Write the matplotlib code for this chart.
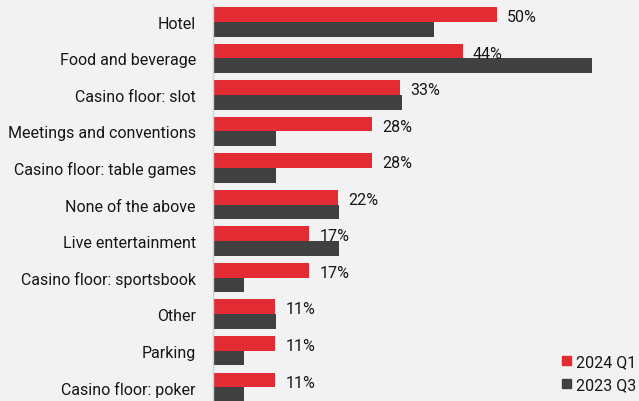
import numpy as np
import matplotlib.pyplot as plt
from matplotlib.patches import Patch

categories = ["Hotel", "Food and beverage", "Casino floor: slot",
              "Meetings and conventions", "Casino floor: table games",
              "None of the above", "Live entertainment",
              "Casino floor: sportsbook", "Other", "Parking",
              "Casino floor: poker"]
q1_2024 = [50, 44, 33, 28, 28, 22, 17, 17, 11, 11, 11]
q3_2023 = [38.9, 66.7, 33.3, 11.1, 11.1, 22.2, 22.2, 5.6, 11.1, 5.6, 5.6]

RED = "#e32b33"
DARK = "#404040"
BG = "#f2f2f2"
TXT = "#161616"

plt.rcParams['font.family'] = ['Roboto', 'DejaVu Sans']

fig = plt.figure(figsize=(6.39, 4.02), dpi=100, facecolor=BG)
ax = fig.add_axes([212.5 / 639, 0, (639 - 212.5) / 639, 397 / 402])
ax.set_facecolor(BG)

y = np.arange(len(categories))
h = 0.4
ax.barh(y - h / 2, q1_2024, height=h, color=RED, label="2024 Q1")
ax.barh(y + h / 2, q3_2023, height=h, color=DARK, label="2023 Q3")

# value labels on the 2024 bars only
for yi, v in zip(y, q1_2024):
    ax.text(v + 1.8, yi - h / 2 + 0.06, f"{v}%", va="center", ha="left",
            fontsize=11.5, color=TXT)

ax.set_xlim(0, 75)
ax.set_ylim(10.38, -0.49)
ax.set_yticks(y)
ax.set_yticklabels(categories, fontsize=11.5, color=TXT)
ax.tick_params(axis="y", length=0, pad=12)
ax.set_xticks([])
for s in ["top", "right", "bottom"]:
    ax.spines[s].set_visible(False)
ax.spines["left"].set_color("#cfcfcf")
ax.spines["left"].set_linewidth(1)

handles = [Patch(color=RED, label="2024 Q1"), Patch(color=DARK, label="2023 Q3")]
fig.legend(handles=handles, loc="upper left", bbox_to_anchor=(562 / 639, 1 - 355 / 402),
           frameon=False, fontsize=11.5, handlelength=0.55, handleheight=0.55,
           handletextpad=0.35, labelspacing=0.5, borderpad=0, borderaxespad=0,
           labelcolor=TXT)

fig.savefig("out.png", dpi=100, facecolor=BG)
